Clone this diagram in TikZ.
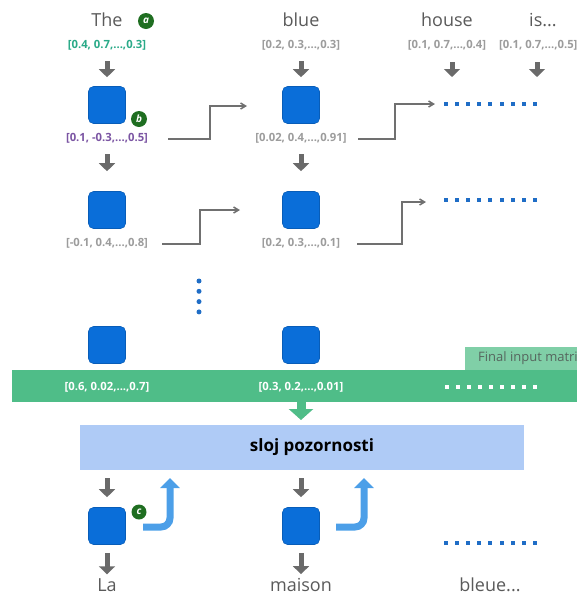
\documentclass[tikz,border=0pt]{standalone}
\usepackage{fontspec}
\setmainfont{Open Sans}
\usetikzlibrary{arrows.meta}
\definecolor{sqblue}{HTML}{0A6ED9}
\definecolor{wordgray}{HTML}{5A5A5A}
\definecolor{vecgray}{HTML}{9C9C9C}
\definecolor{vecteal}{HTML}{2AAA88}
\definecolor{vecpurple}{HTML}{7B55A3}
\definecolor{badgegreen}{HTML}{1F6E21}
\definecolor{arrowgray}{HTML}{6A6A6A}
\definecolor{linegray}{HTML}{707070}
\definecolor{dotblue}{HTML}{1F6DC6}
\definecolor{bandgreen}{HTML}{4FBD88}
\definecolor{tabgreen}{HTML}{80CFA7}
\definecolor{tabtext}{HTML}{56665E}
\definecolor{boxblue}{HTML}{AFCBF6}
\definecolor{curveblue}{HTML}{4C9FE8}
\begin{document}
\begin{tikzpicture}[x=1pt,y=-1pt,
  word/.style={font=\fontsize{18}{20}\selectfont, text=wordgray, inner sep=0pt},
  vec/.style={font=\fontsize{11.3}{13}\selectfont\bfseries, inner sep=1pt},
  sq/.style={fill=sqblue, draw=sqblue!85!black, line width=0.6pt, rounded corners=5pt, minimum size=37pt, inner sep=0pt},
  badge/.style={circle, fill=badgegreen, text=white, minimum size=16pt, inner sep=0pt, font=\fontsize{10}{10}\selectfont\bfseries\itshape},
  garrow/.style={draw=arrowgray, line width=5pt, -{Triangle[width=16pt,length=8pt]}},
  steparrow/.style={draw=linegray, line width=1.5pt, -{Straight Barb[length=5pt,width=6pt]}},
  bluearrow/.style={draw=curveblue, line width=7pt, rounded corners=9pt, -{Triangle[width=19pt,length=10pt]}},
  greenarrow/.style={draw=bandgreen, line width=9pt, -{Triangle[width=24pt,length=11pt]}},
]
\useasboundingbox (0,0) rectangle (577,595);
\clip (0,0) rectangle (577,595);

% top words
\node[word] (w1) at (107,20) {The};
\node[word] (w2) at (301,20) {blue};
\node[word] (w3) at (447,20) {house};
\node[word] (w4) at (543,20) {is...};
\node[badge] (ba) at (146,21) {a};

% top vectors
\node[vec, text=vecteal] (v1) at (107,45) {[0.4, 0.7,...,0.3]};
\node[vec, text=vecgray] (v2) at (301,45) {[0.2, 0.3,...,0.3]};
\node[vec, text=vecgray] (v3) at (447,45) {[0.1, 0.7,...,0.4]};
\node[vec, text=vecgray, anchor=west] (v4) at (498,45) {[0.1, 0.7,...,0.5]};

% row 1
\node[sq] (s11) at (107,105) {};
\node[sq] (s12) at (301,105) {};
\node[badge] (bb) at (139,119) {b};
\node[vec, text=vecpurple] (r11) at (107,138) {[0.1, -0.3,...,0.5]};
\node[vec, text=vecgray] (r12) at (301,138) {[0.02, 0.4,...,0.91]};

% row 2
\node[sq] (s21) at (107,210) {};
\node[sq] (s22) at (301,210) {};
\node[vec, text=vecgray] (r21) at (107,243) {[-0.1, 0.4,...,0.8]};
\node[vec, text=vecgray] (r22) at (301,243) {[0.2, 0.3,...,0.1]};

% row 3
\node[sq] (s31) at (107,345) {};
\node[sq] (s32) at (301,345) {};

% gray arrows top
\draw[garrow, shorten <=10pt, shorten >=9pt] (v1.south) -- (s11.north);
\draw[garrow, shorten <=10pt, shorten >=9pt] (v2.south) -- (s12.north);
\coordinate (e3) at (452,77);
\coordinate (e4) at (537,77);
\coordinate (t3) at (452,52);
\coordinate (t4) at (537,52);
\draw[garrow, shorten <=10pt] (t3) -- (e3);
\draw[garrow, shorten <=10pt] (t4) -- (e4);
\draw[garrow, shorten <=10pt, shorten >=20pt] (r11.south) -- (s21.north);
\draw[garrow, shorten <=10pt, shorten >=20pt] (r12.south) -- (s22.north);

% step connectors
\coordinate (a1) at (168,139); \coordinate (b1) at (247,106);
\coordinate (a2) at (358,139); \coordinate (b2) at (435,104);
\coordinate (a3) at (162,244); \coordinate (b3) at (240,210);
\coordinate (a4) at (357,244); \coordinate (b4) at (426,202);
\draw[steparrow] (a1) -- (210,139) |- (b1);
\draw[steparrow] (a2) -- (395,139) |- (b2);
\draw[steparrow] (a3) -- (200,244) |- (b3);
\draw[steparrow] (a4) -- (402,244) |- (b4);

% horizontal blue dots
\foreach \yy in {104,200,543} {
  \foreach \i in {0,...,8} {
    \fill[dotblue] ({446+\i*11.1-2},{\yy-2}) rectangle ++(4,4);
  }
}
% vertical dots
\foreach \i in {0,...,3} {
  \fill[dotblue] (199,{281+\i*10.3}) circle (2.5);
}

% tab and band
\node[fill=tabgreen, minimum width=120pt, minimum height=24pt, inner sep=0pt, anchor=north west] (tab) at (465,347) {};
\node[anchor=west, text=tabtext, font=\fontsize{13}{15}\selectfont, inner sep=0pt] (tabt) at (478,358) {Final input matrix};
\node[fill=bandgreen, minimum width=570pt, minimum height=32pt, inner sep=0pt, anchor=north west] (band) at (12,370) {};
\node[vec, text=white] (f1) at (107,387) {[0.6, 0.02,...,0.7]};
\node[vec, text=white] (f2) at (301,387) {[0.3, 0.2,...,0.01]};
\foreach \i in {0,...,8} {
  \fill[white] ({447+\i*11-2},{387-2}) rectangle ++(4,4);
}

% attention box
\node[fill=boxblue, minimum width=444pt, minimum height=45pt, inner sep=0pt, anchor=north west] (box) at (80,425) {};
\node[font=\fontsize{17}{20}\selectfont\bfseries, text=black] (boxt) at (312,447) {sloj pozornosti};
\coordinate (g0) at (301,396);
\draw[greenarrow, shorten >=5pt] (g0) -- (box.north -| g0);

% bottom
\node[sq] (s41) at (107,526) {};
\node[sq] (s42) at (301,526) {};
\node[badge, minimum size=15pt] (bc) at (139,512) {c};
\node[word] (o1) at (107,585) {La};
\node[word] (o2) at (301,585) {maison};
\node[word] (o3) at (490,585) {bleue...};
\draw[garrow, shorten <=8pt, shorten >=10pt] (box.south -| s41) -- (s41.north);
\draw[garrow, shorten <=8pt, shorten >=10pt] (box.south -| s42) -- (s42.north);
\draw[garrow, shorten <=8pt, shorten >=4pt] (s41.south) -- (o1.north);
\draw[garrow, shorten <=8pt, shorten >=4pt] (s42.south) -- (o2.north);

\coordinate (c1) at (143,527); \coordinate (d1) at (170,478);
\coordinate (c2) at (336,527); \coordinate (d2) at (364,478);
\draw[bluearrow] (c1) -| (d1);
\draw[bluearrow] (c2) -| (d2);
\end{tikzpicture}
\end{document}
